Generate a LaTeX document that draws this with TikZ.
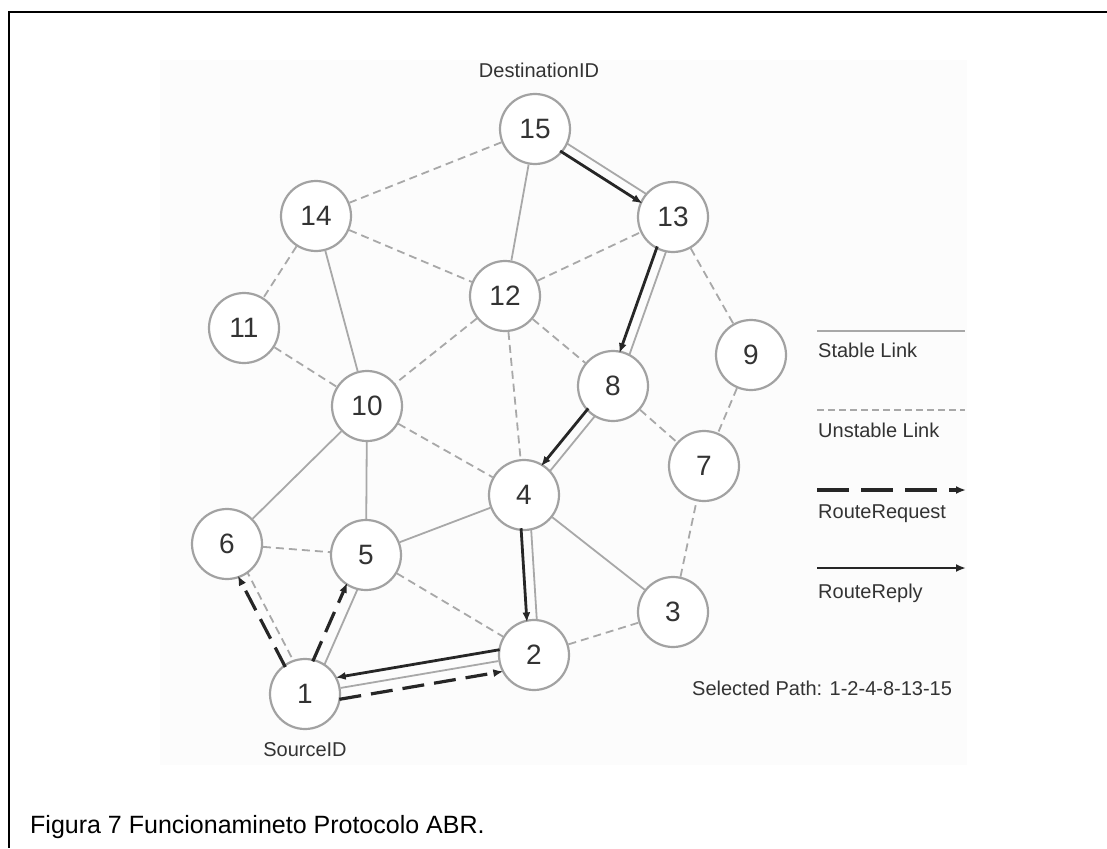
\documentclass[tikz,border=0pt]{standalone}
\usepackage{fontspec}
\setmainfont{Liberation Sans}
\usetikzlibrary{calc,arrows.meta,backgrounds}

\definecolor{linkgray}{HTML}{A8A8A8}
\definecolor{ringgray}{HTML}{A2A2A2}
\definecolor{labelgray}{HTML}{333333}
\definecolor{paper}{HTML}{FCFCFC}

\tikzset{
  station/.style={circle, draw=ringgray, line width=2.2pt, fill=white,
    minimum size=70pt, inner sep=0pt, text=labelgray,
    font=\fontsize{28}{30}\selectfont},
  stable/.style={draw=linkgray, line width=1.8pt},
  unstable/.style={draw=linkgray, line width=1.8pt, dash pattern=on 8pt off 5pt},
  request/.style={draw=black!85, line width=3.2pt, dash pattern=on 22pt off 10pt,
    -{Latex[length=10pt,width=8pt]}},
  reply/.style={draw=black!85, line width=2.8pt, -{Latex[length=10pt,width=8pt]}},
  tag/.style={font=\fontsize{20}{22}\selectfont, text=labelgray, inner sep=0pt},
  frameline/.style={draw=black, line width=2.4pt},
}

% a segment between two stations, pushed sideways from the centre line
% #1 style, #2 from, #3 to, #4 distance from the centres, #5 side offset,
% #6 / #7 turning angle at the start / end
\newcommand\trail[7]{%
  \draw[#1] ($(#2)!#4!(#3)!#5!#6:(#3)$) -- ($(#3)!#4!(#2)!#5!#7:(#2)$);}

\begin{document}
\begin{tikzpicture}[x=1pt,y=-1pt]
\useasboundingbox (0,0) rectangle (1107,848);

% stations
\node[station] (n15) at (535,129) {15};
\node[station] (n13) at (673,217) {13};
\node[station] (n14) at (316,216) {14};
\node[station] (n12) at (505,296) {12};
\node[station] (n11) at (244,328) {11};
\node[station] (n9)  at (751,355) {9};
\node[station] (n10) at (367,406) {10};
\node[station] (n8)  at (613,386) {8};
\node[station] (n7)  at (704,466) {7};
\node[station] (n4)  at (524,495) {4};
\node[station] (n6)  at (227,544) {6};
\node[station] (n5)  at (366,555) {5};
\node[station] (n3)  at (673,612) {3};
\node[station] (n2)  at (534,655) {2};
\node[station] (n1)  at (305,694) {1};

\begin{scope}[on background layer]
  \fill[paper] (160,60) rectangle (967,765);
  % stable links
  \foreach \a/\b in {n15/n12, n14/n10, n10/n6, n10/n5, n5/n4, n4/n3, n1/n2}
    \draw[stable] (\a) -- (\b);
  % unstable links
  \foreach \a/\b in {n15/n14, n14/n12, n14/n11, n11/n10, n12/n13, n12/n10,
                     n12/n4, n12/n8, n13/n9, n9/n7, n8/n7, n10/n4, n6/n5,
                     n5/n2, n2/n3, n3/n7}
    \draw[unstable] (\a) -- (\b);
  % links running beside the route arrows
  \trail{stable}{n15}{n13}{0pt}{5pt}{90}{-90}
  \trail{stable}{n13}{n8}{0pt}{5pt}{90}{-90}
  \trail{stable}{n8}{n4}{0pt}{5pt}{90}{-90}
  \trail{stable}{n4}{n2}{0pt}{5pt}{90}{-90}
  \trail{stable}{n1}{n5}{0pt}{6pt}{-90}{90}
  \trail{unstable}{n1}{n6}{0pt}{5pt}{-90}{90}
\end{scope}

% route reply
\trail{reply}{n15}{n13}{33pt}{5pt}{-90}{90}
\trail{reply}{n13}{n8}{33pt}{5pt}{-90}{90}
\trail{reply}{n8}{n4}{33pt}{5pt}{-90}{90}
\trail{reply}{n4}{n2}{33pt}{5pt}{-90}{90}
\trail{reply}{n2}{n1}{33pt}{11pt}{-90}{90}

% route request
\trail{request}{n1}{n6}{33pt}{5pt}{90}{-90}
\trail{request}{n1}{n5}{33pt}{6pt}{90}{-90}
\trail{request}{n1}{n2}{33pt}{11pt}{-90}{90}

% end point labels
\node[tag, anchor=base] (dest) at (539,78) {DestinationID};
\node[tag, anchor=base] (src) at (305,756) {SourceID};
\node[tag, anchor=base west] (sel) at (692,695) {Selected Path: 1-2-4-8-13-15};

% legend
\coordinate (ls1) at (817,331); \coordinate (ls2) at (965,331);
\coordinate (lu1) at (817,410); \coordinate (lu2) at (965,410);
\coordinate (lq1) at (817,490); \coordinate (lq2) at (966,490);
\coordinate (lr1) at (817,568); \coordinate (lr2) at (966,568);
\draw[stable] (ls1) -- (ls2);
\draw[unstable, dash pattern=on 7pt off 4pt] (lu1) -- (lu2);
\draw[request, dash pattern=on 32pt off 12pt] (lq1) -- (lq2);
\draw[reply] (lr1) -- (lr2);
\node[tag, anchor=base west] (lt1) at (818,357) {Stable Link};
\node[tag, anchor=base west] (lt2) at (818,437) {Unstable Link};
\node[tag, anchor=base west] (lt3) at (818,518) {RouteRequest};
\node[tag, anchor=base west] (lt4) at (818,598) {RouteReply};

% frame and caption
\draw[frameline] (1107,12) -- (9,12) -- (9,848);
\node[anchor=base west, inner sep=0pt, font=\fontsize{25}{28}\selectfont]
  (caption) at (30,833) {Figura 7 Funcionamineto Protocolo ABR.};
\end{tikzpicture}
\end{document}
